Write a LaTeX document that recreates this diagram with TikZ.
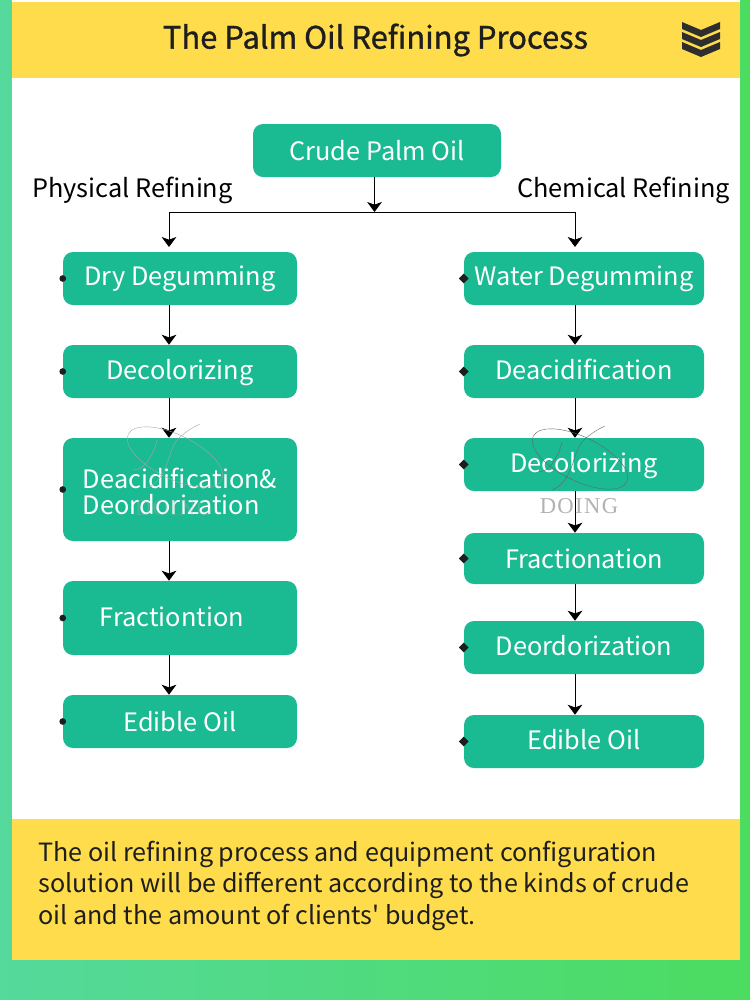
\documentclass[tikz,border=0pt]{standalone}
\usepackage{fontspec}
\setmainfont{Noto Sans CJK SC}
\newfontfamily\titlefont[FakeBold=1]{Noto Sans CJK SC}
\newfontfamily\notefont{Noto Sans CJK SC}
\newfontfamily\markfont[LetterSpace=6]{Liberation Serif}
\usetikzlibrary{shapes.geometric,arrows.meta}
\definecolor{bandyellow}{HTML}{FEDC4C}
\definecolor{boxgreen}{HTML}{1ABA92}
\definecolor{edgeleft}{HTML}{55D99C}
\definecolor{edgeright}{HTML}{4BDC60}
\definecolor{inkdark}{HTML}{1E1E1E}
\tikzset{
  stepbox/.style={rectangle, rounded corners=7.5pt, fill=boxgreen, text=white, font=\fontsize{19}{19.5}\selectfont, align=center, minimum width=175.5pt, minimum height=39.75pt, inner sep=0pt, text height=14.4pt, text depth=4.6pt},
  rightbox/.style={stepbox, minimum width=180pt},
  drop/.style={text height={14.4pt+#1*0.75pt}, text depth={4.6pt-#1*0.75pt}},
  routelabel/.style={font=\fontsize{19}{21}\selectfont, text=black},
  flowline/.style={draw=black, line width=0.75pt, -{Stealth[length=7.5pt,width=11pt,inset=2pt]}},
  plainline/.style={draw=black, line width=0.75pt},
  rounddot/.style={circle, fill=inkdark, minimum size=5pt, inner sep=0pt},
  diamonddot/.style={diamond, fill=inkdark, minimum size=7.5pt, inner sep=0pt},
  mark line/.style={draw=black!50, line width=0.3pt},
  mark text/.style={font=\markfont\fontsize{17}{17}\selectfont, text=black!30}
}
\begin{document}
\begin{tikzpicture}[x=0.75pt,y=-0.75pt]
  \useasboundingbox (0,0) rectangle (750,1004);
  \fill[white] (0,0) rectangle (750,1004);
  \shade[left color=edgeleft, right color=edgeright] (0,0) rectangle (750,999);
  \fill[white] (12,0) rectangle (740,820);
  \fill[bandyellow] (12,2) rectangle (740,78);
  \fill[bandyellow] (12,819) rectangle (740,960);

  \node[font=\titlefont\fontsize{23.2}{25}\selectfont, text=inkdark] (title) at (375.5,40) {The Palm Oil Refining Process};
  \foreach \i in {0,1,2}
    \fill[black!82] (682,{22+\i*10}) -- (701,{30+\i*10}) -- (720,{22+\i*10}) -- (720,{29+\i*10}) -- (701,{37+\i*10}) -- (682,{29+\i*10}) -- cycle;

  \node[stepbox, minimum width=186pt, drop=3.1] (crude) at (377,150.5) {Crude Palm Oil};
  \node[routelabel] (physical) at (132.5,190) {Physical Refining};
  \node[routelabel] (chemical) at (623.5,190) {Chemical Refining};

  \node[stepbox] (dry) at (180,278.5) {Dry Degumming};
  \node[stepbox, drop=1] (colorl) at (180,371.5) {Decolorizing};
  \node[stepbox, minimum height=77.25pt, align=left, text height=42.6pt, text depth=4.6pt] (acidl) at (180,489.5) {Deacidification\&\\Deordorization};
  \node[stepbox, minimum height=55.5pt, drop=2] (fracl) at (180,618) {Fractiontion\hspace{12pt}};
  \node[stepbox, drop=3] (oill) at (180,721.5) {Edible Oil};

  \node[rightbox] (water) at (584,278.5) {Water Degumming};
  \node[rightbox, drop=1] (acidr) at (584,371.5) {Deacidification};
  \node[rightbox, drop=1] (colorr) at (584,464.5) {Decolorizing};
  \node[rightbox, minimum height=38.25pt, drop=3] (fracr) at (584,558.5) {Fractionation};
  \node[rightbox, drop=1] (deodr) at (584,647.5) {Deordorization};
  \node[rightbox, drop=1] (oilr) at (584,741.5) {Edible Oil};

  \foreach \n in {dry,colorl,acidl,fracl,oill}
    \node[rounddot] (\n dot) at (\n.west) {};
  \foreach \n in {water,acidr,colorr,fracr,deodr,oilr}
    \node[diamonddot] (\n dot) at (\n.west) {};

  \coordinate (split) at (374.5,212);
  \coordinate (leftaxis) at (169,212);
  \coordinate (rightaxis) at (575,212);
  \draw[flowline] (crude.south -| split) -- (split);
  \draw[plainline] (leftaxis) -- (rightaxis);
  \draw[flowline] (leftaxis) -- (leftaxis |- 0,247);
  \draw[flowline] (rightaxis) -- (rightaxis |- 0,247);
  \foreach \a/\b in {dry/colorl,colorl/acidl,acidl/fracl,fracl/oill}
    \draw[flowline] (\a.south -| leftaxis) -- (\b.north -| leftaxis);
  \foreach \a/\b in {water/acidr,acidr/colorr,colorr/fracr,fracr/deodr,deodr/oilr}
    \draw[flowline] (\a.south -| rightaxis) -- (\b.north -| rightaxis);

  \foreach \mx/\my/\mname/\mtone/\mdrop/\mfade in {175/457/markl/35/51/0.3,580/459/markr/60/47/1}{
    \draw[mark line, draw=black!\mtone] (\mx,\my) ellipse [x radius=52, y radius=22, rotate=-26];
    \draw[mark line, draw=black!\mtone] (\mx-28,\my+31) .. controls (\mx-5,\my+22) and (\mx-8,\my-10) .. (\mx+5,\my-20) .. controls (\mx+12,\my-26) and (\mx+18,\my-30) .. (\mx+25,\my-33);
    \draw[mark line, draw=black!\mtone] (\mx-42,\my+12) .. controls (\mx-28,\my+16) and (\mx-18,\my-14) .. (\mx-18,\my-17);
    \node[mark text, text opacity=\mfade] (\mname) at (\mx-1,\my+\mdrop) {DOING};
  }

  \node[font=\notefont\fontsize{18.85}{23.5}\selectfont, text=inkdark, align=left, anchor=north west, inner sep=0pt] (note) at (38,841) {The oil refining process and equipment configuration\\solution will be different according to the kinds of crude\\oil and the amount of clients' budget.};
\end{tikzpicture}
\end{document}
